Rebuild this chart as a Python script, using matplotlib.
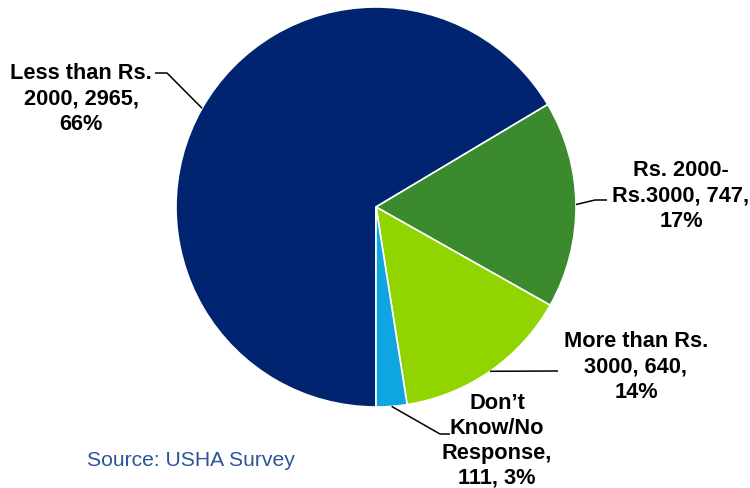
import numpy as np
import matplotlib
matplotlib.use("Agg")
import matplotlib.pyplot as plt

values = [2965, 747, 640, 111]
label_texts = [
    "Less than Rs.\n2000, 2965,\n66%",
    "Rs. 2000-\nRs.3000, 747,\n17%",
    "More than Rs.\n3000, 640,\n14%",
    "Don\u2019t\nKnow/No\nResponse,\n111, 3%",
]
colors = ["#00246F", "#3C8A2E", "#92D400", "#0EA5E0"]

plt.rcParams["font.family"] = ["Liberation Sans", "DejaVu Sans"]

W, H, R = 750, 489, 200
cx, cy = 376, 208  # pie centre in pixels (from top-left)

fig = plt.figure(figsize=(7.5, 4.89), dpi=100)
ax = fig.add_axes([0, 0, 1, 1])

wedges, _ = ax.pie(values, colors=colors, startangle=270, counterclock=False,
                   radius=1, center=(0, 0), frame=True,
                   wedgeprops=dict(edgecolor="white", linewidth=1.2))
ax.set_xlim(-cx / R, (W - cx) / R)
ax.set_ylim(-(H - cy) / R, cy / R)
ax.set_aspect("auto")
ax.axis("off")


def px(x, y):
    return (x - cx) / R, (cy - y) / R


# label layout: text centre, line spacing and leader path after the wedge anchor (pixels)
layout = [
    dict(text=(81, 99), ls=1.28, path=[(167, 74), (155, 74)]),
    dict(text=(681, 196), ls=1.28, path=[(595, 201), (607, 201)]),
    dict(text=(636, 367), ls=1.28, path=[(558, 372)]),
    dict(text=(497, 441), ls=1.24, path=[(440, 435), (450, 435)]),
]

for w, txt, lay in zip(wedges, label_texts, layout):
    mid = np.deg2rad((w.theta1 + w.theta2) / 2)
    pts = [(np.cos(mid), np.sin(mid))] + [px(*p) for p in lay["path"]]
    xs, ys = zip(*pts)
    ax.plot(xs, ys, color="black", lw=1.1, solid_capstyle="butt")
    tx, ty = px(*lay["text"])
    ax.text(tx, ty, txt, ha="center", va="center", fontsize=15.7,
            fontweight="bold", linespacing=lay["ls"], color="black")

sx, sy = px(87, 461)
ax.text(sx, sy, "Source: USHA Survey", ha="left", va="center",
        fontsize=15.2, color="#2E5597")

fig.savefig("out.png", dpi=100)
